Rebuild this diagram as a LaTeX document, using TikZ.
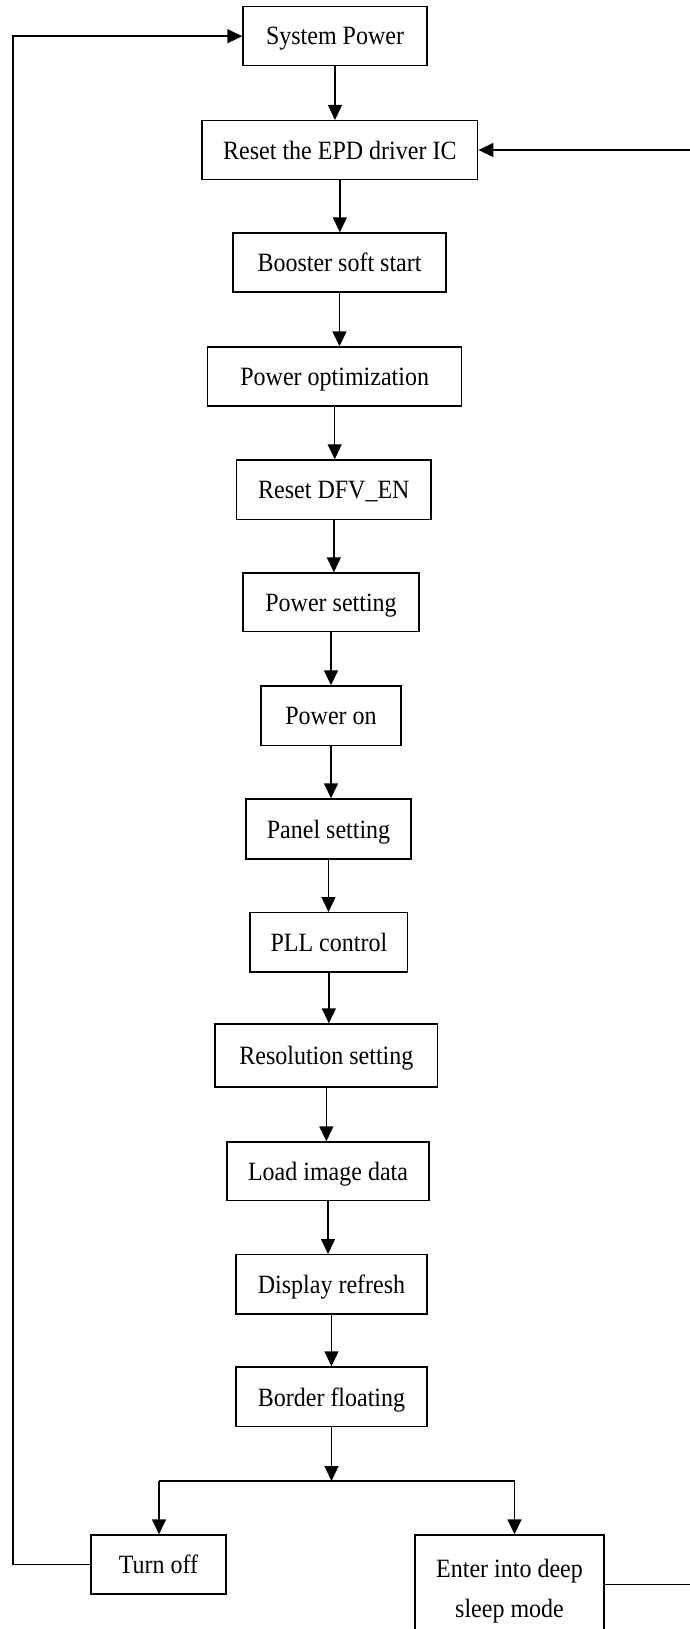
\documentclass[tikz,border=0pt]{standalone}
\usepackage{fontspec}
\setmainfont{Liberation Serif}
\usetikzlibrary{arrows.meta}
\newcommand{\vs}[1]{\scalebox{1}[1.1]{#1}}
\tikzset{
  box/.style={draw, line width=1.4pt, inner sep=0pt, text depth=0pt, font=\fontsize{24}{36.4}\selectfont},
  arr/.style={line width=1.4pt, -{Triangle[length=15pt,width=14pt]}},
  ln/.style={line width=1.4pt},
}
\begin{document}
\begin{tikzpicture}[x=1pt,y=-1pt]
\useasboundingbox (0,0) rectangle (690,1629);
\clip (0,0) rectangle (690,1629);
\node[box, minimum width=184pt, minimum height=59pt] (sp) at (335,36.2) {\vs{System Power}};
\node[box, minimum width=275.7pt, minimum height=58.6pt] (rst) at (339.85,150) {\vs{Reset the EPD driver IC}};
\node[box, minimum width=213pt, minimum height=59pt] (boost) at (339.5,262.5) {\vs{Booster soft start}};
\node[box, minimum width=254pt, minimum height=59pt] (popt) at (334.7,376.5) {\vs{Power optimization}};
\node[box, minimum width=194.3pt, minimum height=59.3pt] (dfv) at (333.85,489.65) {\vs{Reset DFV\_EN}};
\node[box, minimum width=176pt, minimum height=58.7pt] (pset) at (331,602.35) {\vs{Power setting}};
\node[box, minimum width=140pt, minimum height=59.7pt] (pon) at (331,715.85) {\vs{Power on}};
\node[box, minimum width=165pt, minimum height=60pt] (panel) at (328.5,829) {\vs{Panel setting}};
\node[box, minimum width=157.7pt, minimum height=59.3pt] (pll) at (328.85,942.35) {\vs{PLL control}};
\node[box, minimum width=222.7pt, minimum height=63pt] (res) at (326.35,1055.5) {\vs{Resolution setting}};
\node[box, minimum width=202pt, minimum height=58.7pt] (load) at (328,1171.35) {\vs{Load image data}};
\node[box, minimum width=191pt, minimum height=59.3pt] (disp) at (331.5,1284.35) {\vs{Display refresh}};
\node[box, minimum width=191pt, minimum height=59.7pt] (border) at (331.5,1396.85) {\vs{Border floating}};
\node[box, minimum width=135pt, minimum height=59pt] (off) at (158.5,1564.5) {\vs{Turn off}};
\node[box, minimum width=189pt, minimum height=99pt, text depth=23pt] (sleep) at (509.5,1584.5) {\vs{\begin{tabular}{@{}c@{}}Enter into deep\\sleep mode\end{tabular}}};

\foreach \a/\b in {sp/rst, rst/boost, boost/popt, popt/dfv, dfv/pset, pset/pon, pon/panel, panel/pll, pll/res, res/load, load/disp, disp/border}
  \draw[arr] (\a.south) -- (\a.south |- \b.north);

\coordinate (bl) at (159,1481);
\coordinate (br) at (514.5,1481);
\draw[arr] (border.south) -- (border.south |- bl);
\draw[ln] (bl) -- (br);
\draw[arr] (bl) -- (bl |- off.north);
\draw[arr] (br) -- (br |- sleep.north);

\coordinate (lx) at (13,0);
\draw[arr] (off.west) -- (off.west -| lx) -- (lx |- sp.west) -- (sp.west);

\coordinate (rx) at (700,0);
\draw[arr] (sleep.east) -- (sleep.east -| rx) -- (rx |- rst.east) -- (rst.east);
\end{tikzpicture}
\end{document}
